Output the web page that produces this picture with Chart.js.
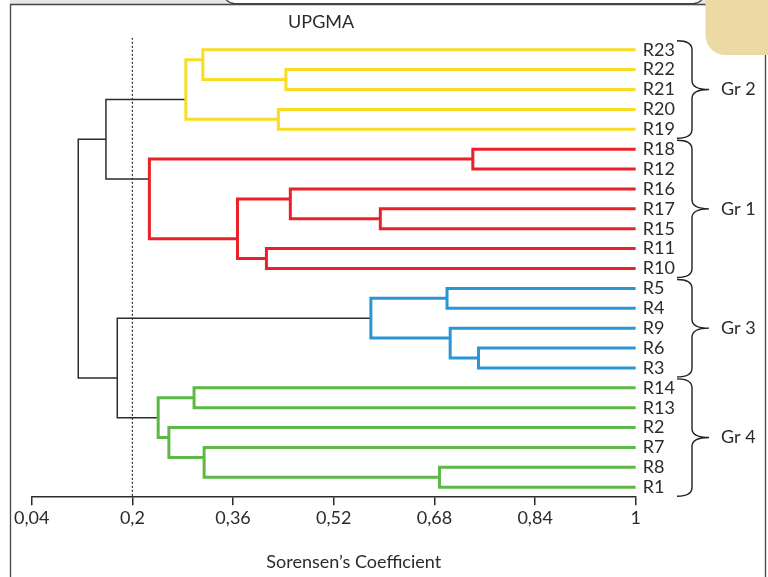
<!DOCTYPE html>
<html>
<head>
<meta charset="utf-8">
<script src="https://cdn.jsdelivr.net/npm/chart.js@4"></script>
<style>
  html, body { margin: 0; padding: 0; background: #fff; }
  #wrap { width: 768px; height: 577px; position: relative; }
</style>
</head>
<body>
<div id="wrap"><canvas id="dendro"></canvas></div>
<script>
// leaves, top to bottom (row 1 = R23)
const leafLabels = ['R23', 'R22', 'R21', 'R20', 'R19', 'R18', 'R12', 'R16', 'R17', 'R15', 'R11', 'R10',
    'R5', 'R4', 'R9', 'R6', 'R3', 'R14', 'R13', 'R2', 'R7', 'R8', 'R1'];

// UPGMA joins m1..m22: the two children, Sorensen similarity of the join, row of the joined node
const joinA = ['R22', 'R23', 'R20', 'm2', 'R18', 'R17', 'R16', 'R11', 'm7', 'm5', 'm4',
    'R5', 'R6', 'R9', 'm12', 'R14', 'R8', 'R7', 'R2', 'm16', 'm15', 'm11'];
const joinB = ['R21', 'm1', 'R19', 'm3', 'R12', 'R15', 'm6', 'R10', 'm8', 'm9', 'm10',
    'R4', 'R3', 'm13', 'm14', 'R13', 'R1', 'm17', 'm18', 'm19', 'm20', 'm21'];
const joinSimilarity = [0.444, 0.312, 0.432, 0.285, 0.741, 0.594, 0.451, 0.413, 0.367, 0.227, 0.158,
    0.700, 0.750, 0.705, 0.579, 0.298, 0.688, 0.314, 0.258, 0.241, 0.176, 0.114];
const joinRow = [2.5, 1.5, 4.5, 3.5, 6.5, 9.5, 8.5, 11.5, 10.5, 7.5, 5.5,
    13.5, 16.5, 15.5, 14.5, 18.5, 22.5, 21.5, 20.5, 19.5, 17.5, 11.5];
const joinGroup = ['Gr 2', 'Gr 2', 'Gr 2', 'Gr 2', 'Gr 1', 'Gr 1', 'Gr 1', 'Gr 1', 'Gr 1', 'Gr 1', '',
    'Gr 3', 'Gr 3', 'Gr 3', 'Gr 3', 'Gr 4', 'Gr 4', 'Gr 4', 'Gr 4', 'Gr 4', '', ''];

// groups (braces on the right)
const groupLabels = ['Gr 2', 'Gr 1', 'Gr 3', 'Gr 4'];
const groupFirst = ['R23', 'R18', 'R5', 'R14'];
const groupLast = ['R19', 'R10', 'R3', 'R1'];

// axis
const xTicks = [0.04, 0.2, 0.36, 0.52, 0.68, 0.84, 1];
const cutLevel = 0.2;

// styles
const groupColors = { 'Gr 2': '#f9dc24', 'Gr 1': '#ea2129', 'Gr 3': '#2a96d3', 'Gr 4': '#5cb847' };
const inkColor = '#2b2b2b';
const FONT = 'Lato, "Liberation Sans", sans-serif';
const ROW_MIN = 0.4, ROW_MAX = 23.5;

function nodePos(name) {
    if (name[0] === 'm') {
        const k = parseInt(name.slice(1)) - 1;
        return { x: joinSimilarity[k], y: joinRow[k] };
    }
    return { x: 1, y: leafLabels.indexOf(name) + 1 };
}

// one bracket per join
const datasets = joinA.map((a, k) => {
    const pa = nodePos(a);
    const pb = nodePos(joinB[k]);
    const h = joinSimilarity[k];
    const col = groupColors[joinGroup[k]];
    return {
        data: [{ x: pa.x, y: pa.y }, { x: h, y: pa.y }, { x: h, y: pb.y }, { x: pb.x, y: pb.y }],
        borderColor: col || inkColor,
        borderWidth: col ? 3 : 1.5,
        showLine: true,
        pointRadius: 0,
        borderJoinStyle: 'miter',
        borderCapStyle: 'butt',
        tension: 0
    };
});

// cut line at 0.2
datasets.push({
    data: [{ x: cutLevel, y: ROW_MIN }, { x: cutLevel, y: ROW_MAX }],
    borderColor: inkColor,
    borderWidth: 1.2,
    borderDash: [2, 2],
    showLine: true,
    pointRadius: 0
});

// page frame, title, braces
const decorPlugin = {
    id: 'decor',
    beforeDraw(chart) {
        const ctx = chart.ctx;
        ctx.save();
        ctx.fillStyle = '#e6e6e6';
        ctx.fillRect(10, 0, 760, 4);
        ctx.fillStyle = '#fff';
        ctx.strokeStyle = '#444';
        ctx.lineWidth = 1.2;
        ctx.beginPath();
        ctx.roundRect(223, -20, 482, 23.5, 12);
        ctx.fill();
        ctx.stroke();
        ctx.strokeStyle = '#444';
        ctx.lineWidth = 1.3;
        ctx.beginPath();
        ctx.moveTo(10.5, 590);
        ctx.lineTo(10.5, 4.5);
        ctx.lineTo(765.5, 4.5);
        ctx.lineTo(765.5, 590);
        ctx.stroke();
        ctx.fillStyle = '#edd9a3';
        ctx.beginPath();
        ctx.roundRect(705.5, -20, 80, 75, [0, 0, 0, 20]);
        ctx.fill();
        ctx.restore();
    },
    afterDraw(chart) {
        const ctx = chart.ctx;
        const xs = chart.scales.x;
        const ys = chart.scales.y;
        ctx.save();
        ctx.fillStyle = inkColor;
        ctx.font = '18px ' + FONT;
        ctx.textAlign = 'center';
        ctx.textBaseline = 'middle';
        ctx.fillText('UPGMA', xs.getPixelForValue(0.5), 22);
        ctx.fillText('Sorensen\u2019s Coefficient', (xs.left + xs.right) / 2 + 20, 562);

        ctx.strokeStyle = '#222';
        ctx.lineWidth = 1.4;
        ctx.textAlign = 'left';
        groupLabels.forEach((g, i) => {
            const top = ys.getPixelForValue(leafLabels.indexOf(groupFirst[i]) + 1 - 0.45);
            const bot = ys.getPixelForValue(leafLabels.indexOf(groupLast[i]) + 1 + 0.45);
            const mid = (top + bot) / 2;
            const x0 = 677, x1 = 692, x2 = 709, r = 9;
            ctx.beginPath();
            ctx.moveTo(x0, top);
            ctx.quadraticCurveTo(x1, top, x1, top + r);
            ctx.lineTo(x1, mid - r);
            ctx.quadraticCurveTo(x1, mid, x2, mid);
            ctx.quadraticCurveTo(x1, mid, x1, mid + r);
            ctx.lineTo(x1, bot - r);
            ctx.quadraticCurveTo(x1, bot, x0, bot);
            ctx.stroke();
            ctx.fillText(g, 721, mid);
        });
        ctx.restore();
    }
};

const canvas = document.getElementById('dendro');
canvas.width = 768;
canvas.height = 577;

new Chart(canvas.getContext('2d'), {
    type: 'scatter',
    data: { datasets },
    options: {
        responsive: false,
        animation: false,
        layout: { padding: { left: 31.7, top: 37.8, right: 0, bottom: 0 } },
        plugins: {
            legend: { display: false },
            tooltip: { enabled: false }
        },
        scales: {
            x: {
                type: 'linear',
                min: 0.04,
                max: 1,
                afterBuildTicks: axis => { axis.ticks = xTicks.map(v => ({ value: v })); },
                afterFit: axis => { axis.height = 577 - 497.2; },
                ticks: {
                    autoSkip: false,
                    maxRotation: 0,
                    padding: 2,
                    color: inkColor,
                    font: { family: FONT, size: 18 },
                    callback: v => String(v).replace('.', ',')
                },
                grid: { drawOnChartArea: false, drawTicks: true, tickLength: 8, color: inkColor, lineWidth: 1.5 },
                border: { display: true, color: inkColor, width: 1.5 }
            },
            y: {
                type: 'linear',
                position: 'right',
                reverse: true,
                min: ROW_MIN,
                max: ROW_MAX,
                afterBuildTicks: axis => { axis.ticks = leafLabels.map((_, i) => ({ value: i + 1 })); },
                afterFit: axis => { axis.width = 768 - 635.8; },
                ticks: {
                    autoSkip: false,
                    padding: 7,
                    color: inkColor,
                    font: { family: FONT, size: 18 },
                    callback: v => leafLabels[v - 1]
                },
                grid: { display: false, drawTicks: false },
                border: { display: false }
            }
        }
    },
    plugins: [decorPlugin]
});
</script>
</body>
</html>
